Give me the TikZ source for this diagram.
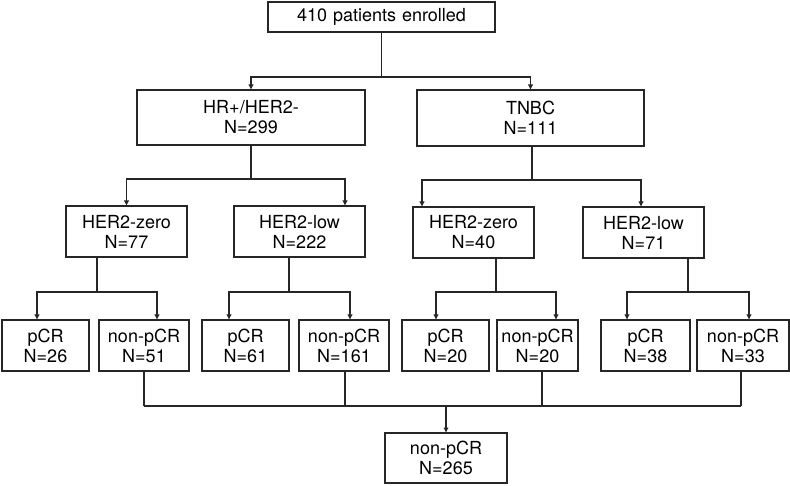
\documentclass[tikz,border=0pt]{standalone}
\usepackage{fontspec}
\setmainfont{TeX Gyre Heros}
\usetikzlibrary{arrows.meta}

\begin{document}
\begin{tikzpicture}[x=1pt,y=-1pt,line width=1.2pt,draw=black!85,
    box/.style={draw=black!85, rectangle, align=center, inner sep=0pt, outer sep=0pt,
        minimum width=#1, text width=#1, minimum height=51pt,
        font=\fontsize{18}{20}\selectfont},
    arr/.style={-{Latex[length=5.5pt,width=5.5pt]}}]
    \useasboundingbox (0,0) rectangle (790,486);

    % Boxes:
    % Placed at the pixel centres of the original layout
    \node [box=227pt, minimum height=30pt] (all) at (381.5,17) {410 patients enrolled};
    \node [box=228pt, minimum height=55pt] (hrpos) at (251,117.5) {HR+/HER2-\\N=299};
    \node [box=227pt, minimum height=56pt] (tnbc) at (530.5,118) {TNBC\\N=111};

    \node [box=121pt] (hrzero) at (126.5,231.5) {HER2-zero\\N=77};
    \node [box=131pt] (hrlow)  at (299.5,231.5) {HER2-low\\N=222};
    \node [box=121pt] (tnzero) at (473.5,232.5) {HER2-zero\\N=40};
    \node [box=121pt] (tnlow)  at (643.5,232.5) {HER2-low\\N=71};

    \node [box=87pt] (pcrA) at (45.5,345.5)  {pCR\\N=26};
    \node [box=90pt] (nonA) at (144,345.5)   {non-pCR\\N=51};
    \node [box=87pt] (pcrB) at (245.5,345.5) {pCR\\N=61};
    \node [box=90pt] (nonB) at (344,345.5)   {non-pCR\\N=161};
    \node [box=87pt] (pcrC) at (445.5,345.5) {pCR\\N=20};
    \node [box=81pt] (nonC) at (537.5,345.5) {non-pCR\\N=20};
    \node [box=89pt] (pcrD) at (645.5,345.5) {pCR\\N=38};
    \node [box=92pt] (nonD) at (743,345.5)   {non-pCR\\N=33};

    \node [box=122pt, minimum height=50pt] (total) at (446,458) {non-pCR\\N=265};

    % Connectors:
    % Each split goes down to a named coordinate, then the arrows leave from there
    \draw (all.south) -- ++(0,45) coordinate (s0);
    \draw [arr] (s0) -| (hrpos.north);
    \draw [arr] (s0) -| (tnbc.north);

    \draw (hrpos.south) -- ++(0,34) coordinate (s1);
    \draw [arr] (s1) -| (hrzero.north);
    \draw [arr] (s1) -| ([xshift=45.5pt]hrlow.north);

    \draw ([xshift=1.5pt]tnbc.south) -- ++(0,34) coordinate (s2);
    \draw [arr] (s2) -| ([xshift=-51.5pt]tnzero.north);
    \draw [arr] (s2) -| ([xshift=-2.5pt]tnlow.north);

    \draw ([xshift=-29.5pt]hrzero.south) -- ++(0,35) coordinate (s3);
    \draw [arr] (s3) -| ([xshift=-8.5pt]pcrA.north);
    \draw [arr] (s3) -| ([xshift=13pt]nonA.north);

    \draw ([xshift=-10.5pt]hrlow.south) -- ++(0,35) coordinate (s4);
    \draw [arr] (s4) -| ([xshift=-16.5pt]pcrB.north);
    \draw [arr] (s4) -| ([xshift=6pt]nonB.north);

    \draw ([xshift=22.5pt]tnzero.south) -- ++(0,34) coordinate (s5);
    \draw [arr] (s5) -| ([xshift=-9.5pt]pcrC.north);
    \draw [arr] (s5) -| ([xshift=18.5pt]nonC.north);

    \draw ([xshift=44.5pt]tnlow.south) -- ++(0,34) coordinate (s6);
    \draw [arr] (s6) -| ([xshift=-18.5pt]pcrD.north);
    \draw [arr] (s6) -| ([xshift=6pt]nonD.north);

    % Merge of all non-pCR boxes:
    \draw (nonA.south) -- ++(0,35) coordinate (m1);
    \draw ([xshift=1pt]nonB.south) -- ++(0,35);
    \draw ([xshift=4.5pt]nonC.south) -- ++(0,35);
    \draw ([xshift=-2pt]nonD.south) -- ++(0,35) coordinate (m4);
    \draw (m1) -- (m4);
    \draw [arr] (m1 -| total.north) -- (total.north);
\end{tikzpicture}
\end{document}
